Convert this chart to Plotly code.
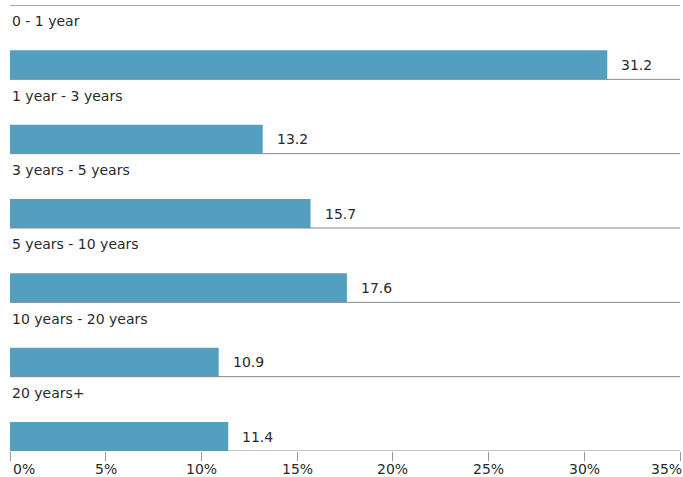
import plotly.graph_objects as go

categories = ["0 - 1 year", "1 year - 3 years", "3 years - 5 years", "5 years - 10 years",
              "10 years - 20 years", "20 years+"]
values = [31.2, 13.2, 15.7, 17.6, 10.9, 11.4]
tick_vals = [0, 5, 10, 15, 20, 25, 30, 35]
tick_labels = ["0%", "5%", "10%", "15%", "20%", "25%", "30%", "35%"]

BAR_COLOR = "#529fc0"
TEXT_COLOR = "#2a2a2a"
FONT = "DejaVu Sans"
FS = 14
BAR_W = 0.39

n = len(categories)
ypos = [i + 1 - BAR_W / 2 for i in range(n)]

fig = go.Figure()
fig.add_trace(go.Bar(
    x=values, y=ypos, orientation="h", width=BAR_W,
    marker=dict(color=BAR_COLOR, line=dict(width=0)),
    hoverinfo="skip",
))

ann = []
for i, (c, v) in enumerate(zip(categories, values)):
    ann.append(dict(x=0, y=i + 0.22, xref="x", yref="y", text=c, showarrow=False,
                    xanchor="left", yanchor="middle", xshift=0,
                    font=dict(family=FONT, size=FS, color=TEXT_COLOR)))
    ann.append(dict(x=v, y=ypos[i], xref="x", yref="y", text=f"{v:.1f}", showarrow=False,
                    xanchor="left", yanchor="middle", xshift=12,
                    font=dict(family=FONT, size=FS, color=TEXT_COLOR)))
for j, (tv, tl) in enumerate(zip(tick_vals, tick_labels)):
    anchor = "left" if j == 0 else ("right" if j == len(tick_vals) - 1 else "center")
    shift = 1 if j == 0 else (4 if j == len(tick_vals) - 1 else 0)
    ann.append(dict(x=tv, y=0, xref="x", yref="paper", text=tl, showarrow=False,
                    xanchor=anchor, yanchor="top", yshift=-8, xshift=shift,
                    font=dict(family=FONT, size=FS, color=TEXT_COLOR)))

shapes = []
for k in range(n + 1):
    if k == 0:
        col, w = "#aaaaaa", 2
    else:
        col, w = "#888888", 1
    shapes.append(dict(type="line", xref="paper", yref="y", x0=0, x1=1, y0=k, y1=k,
                       line=dict(color=col, width=w), layer="above"))

fig.update_layout(
    width=683, height=477,
    margin=dict(l=10, r=3, t=5, b=26),
    paper_bgcolor="white", plot_bgcolor="white",
    showlegend=False,
    annotations=ann,
    shapes=shapes,
    xaxis=dict(range=[0, 35], tickvals=tick_vals, showticklabels=False,
               ticks="outside", ticklen=9, tickcolor="#999999", tickwidth=1,
               showgrid=False, zeroline=False,
               showline=False, fixedrange=True),
    yaxis=dict(range=[n, 0], showticklabels=False,
               showgrid=False, zeroline=False,
               ticks="", showline=False, fixedrange=True),
)

fig.write_html("out.html", config={"displayModeBar": False},
               post_script="document.body.style.margin='0';")
